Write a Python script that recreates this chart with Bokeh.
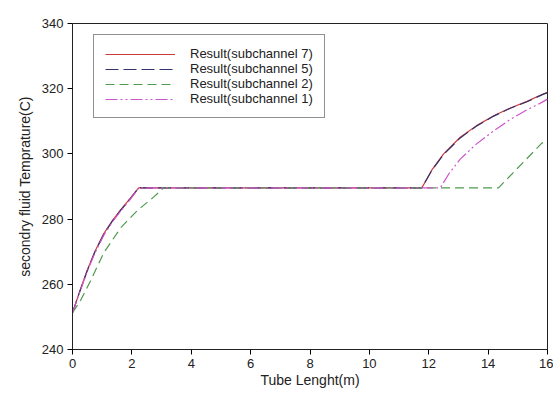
from bokeh.plotting import figure
from bokeh.models import Legend, LegendItem, FixedTicker
from bokeh.embed import file_html
from bokeh.resources import INLINE

# Data
x_ch7 = [0, 0.25, 0.49, 0.75, 1.05, 1.35, 1.62, 1.95, 2.23, 4, 6, 8, 10, 11.77, 12.1, 12.5, 13.06, 13.6, 14.19, 14.75, 15.31, 15.81, 16]
y_ch7 = [251.3, 258.0, 264.2, 270.0, 275.5, 279.6, 282.8, 286.4, 289.6, 289.6, 289.6, 289.6, 289.6, 289.6, 295.0, 300.0, 305.1, 308.6, 311.7, 314.1, 316.1, 318.2, 318.9]

x_ch5 = [0, 0.25, 0.49, 0.75, 1.05, 1.35, 1.62, 1.95, 2.23, 4, 6, 8, 10, 11.77, 12.1, 12.5, 13.06, 13.6, 14.19, 14.75, 15.31, 15.81, 16]
y_ch5 = [251.3, 257.9, 264.0, 269.8, 275.3, 279.5, 282.7, 286.3, 289.6, 289.6, 289.6, 289.6, 289.6, 289.6, 294.9, 299.8, 304.9, 308.5, 311.6, 314.0, 316.0, 318.1, 318.8]

x_ch2 = [0, 0.27, 0.61, 1.05, 1.62, 2.18, 2.75, 3.07, 6, 10, 14.35, 15.81, 16]
y_ch2 = [251.3, 255.0, 261.1, 269.6, 277.3, 282.6, 286.9, 289.6, 289.6, 289.6, 289.6, 303.3, 304.0]

x_ch1 = [0, 0.25, 0.49, 0.75, 1.05, 1.35, 1.62, 1.95, 2.23, 4, 6, 8, 10, 12.39, 12.7, 13.06, 13.6, 14.19, 14.75, 15.31, 15.81, 16]
y_ch1 = [251.3, 257.7, 263.8, 269.5, 275.0, 279.2, 282.4, 286.1, 289.6, 289.6, 289.6, 289.6, 289.6, 289.6, 294.2, 298.4, 303.0, 307.1, 310.6, 313.5, 315.8, 316.8]

labels = ["Result(subchannel 7)", "Result(subchannel 5)", "Result(subchannel 2)", "Result(subchannel 1)"]
x_ticks = [0, 2, 4, 6, 8, 10, 12, 14, 16]
y_ticks = [240, 260, 280, 300, 320, 340]

FONT = "Liberation Sans"

p = figure(frame_width=475, frame_height=326, min_border_left=72, min_border_right=6,
           min_border_top=23, min_border_bottom=46,
           x_range=(0, 16), y_range=(240, 340),
           output_backend="svg", toolbar_location=None)
p.outline_line_color = "#222222"
p.outline_line_width = 1
p.grid.visible = False
p.background_fill_color = "white"
p.border_fill_color = "white"

for ax in (p.xaxis[0], p.yaxis[0]):
    ax.axis_line_color = "#222222"
    ax.major_tick_out = 5
    ax.major_tick_in = 0
    ax.minor_tick_line_color = None
    ax.major_label_text_font = FONT
    ax.major_label_text_font_size = "13px"
    ax.major_label_text_color = "#222222"
    ax.major_label_standoff = 4
    ax.axis_label_text_font = FONT
    ax.axis_label_text_font_size = "14px"
    ax.axis_label_text_font_style = "normal"
    ax.axis_label_text_color = "#222222"

p.xaxis.ticker = FixedTicker(ticks=x_ticks)
p.yaxis.ticker = FixedTicker(ticks=y_ticks)
p.xaxis.axis_label = "Tube Lenght(m)"
p.yaxis.axis_label = "secondry fluid Temprature(C)"
p.xaxis.axis_label_standoff = 1
p.yaxis.axis_label_standoff = 6

r7 = p.line(x_ch7, y_ch7, line_color="#cc3b3b", line_width=1.2)
r5 = p.line(x_ch5, y_ch5, line_color="#33336e", line_width=1.2, line_dash="13 5")
r2 = p.line(x_ch2, y_ch2, line_color="#4e9a4e", line_width=1.2, line_dash="9 5")
r1 = p.line(x_ch1, y_ch1, line_color="#cc55cc", line_width=1.2, line_dash="12 3 2 3 2 3")

legend = Legend(items=[LegendItem(label=labels[0], renderers=[r7]),
                       LegendItem(label=labels[1], renderers=[r5]),
                       LegendItem(label=labels[2], renderers=[r2]),
                       LegendItem(label=labels[3], renderers=[r1])],
                location=(21, 231))
legend.label_text_font = FONT
legend.label_text_font_size = "13px"
legend.label_text_color = "#222222"
legend.glyph_width = 70
legend.glyph_height = 14
legend.label_height = 14
legend.label_standoff = 15
legend.spacing = 0
legend.padding = 11
legend.border_line_color = "#222222"
legend.border_line_width = 1
legend.background_fill_alpha = 1.0
p.add_layout(legend, "center")

open("out.html", "w").write(file_html(p, INLINE))
